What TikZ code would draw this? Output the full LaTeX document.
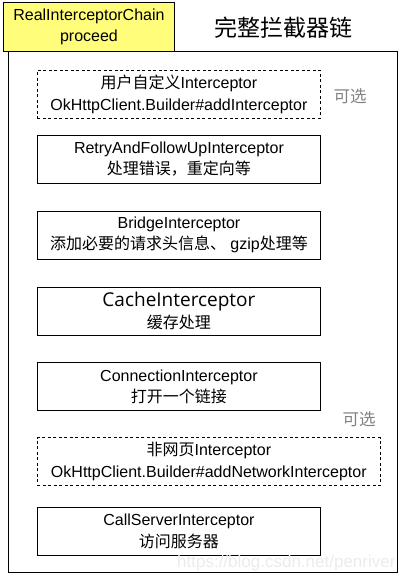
\documentclass[tikz,border=0pt]{standalone}
\usepackage{fontspec}
\setmainfont{Liberation Sans}
\newfontfamily\cjk{Noto Sans CJK SC}
\newfontfamily\cachefont{Open Sans}
\usetikzlibrary{positioning}

\definecolor{chainyellow}{RGB}{255,253,122}
\definecolor{optgray}{RGB}{130,130,130}

\tikzset{
    stage/.style={draw, line width=0.9pt, minimum width=283pt, minimum height=48pt,
        align=center, inner sep=0pt, font=\fontsize{16}{21.5}\selectfont},
    optstage/.style={stage, dashed, dash pattern=on 3pt off 2.5pt, line width=0.7pt},
    optnote/.style={text=optgray, font=\cjk\fontsize{16.5}{18}\selectfont}
}

\begin{document}
\begin{tikzpicture}[x=1pt, y=-1pt]
    \useasboundingbox (0,0) rectangle (406,585);

    % outer frame and header
    \draw[line width=0.9pt] (8,51) rectangle (397,572);
    \node[draw, fill=chainyellow, line width=0.9pt, minimum width=171pt, minimum height=49pt,
        inner sep=0pt, align=center, font=\fontsize{16}{21}\selectfont,
        anchor=north west] (Chain) at (3,2) {RealInterceptorChain\\proceed};
    \node[font=\cjk\fontsize{23}{25}\selectfont] (Title) at (283,28) {完整拦截器链};

    % interceptor boxes
    \node[optstage, anchor=north west] (User) at (37,70)
        {{\cjk 用户自定义}Interceptor\\OkHttpClient.Builder\#addInterceptor};
    \node[stage, below=16pt of User.south west, anchor=north west] (Retry)
        {RetryAndFollowUpInterceptor\\{\cjk 处理错误，重定向等}};
    \node[stage, below=27pt of Retry.south west, anchor=north west] (Bridge)
        {BridgeInterceptor\\{\cjk 添加必要的请求头信息、} gzip{\cjk 处理等}};
    \node[stage, below=27pt of Bridge.south west, anchor=north west] (Cache)
        {{\cachefont\fontsize{19}{21}\selectfont CacheInterceptor}\\{\cjk 缓存处理}};
    \node[stage, below=27pt of Cache.south west, anchor=north west] (Connection)
        {ConnectionInterceptor\\{\cjk 打开一个链接}};
    \node[optstage, minimum width=343pt, below=26pt of Connection.south west,
        anchor=north west] (Network)
        {{\cjk 非网页}Interceptor\\OkHttpClient.Builder\#addNetworkInterceptor};
    \node[stage, below=21pt of Network.south west, anchor=north west] (CallServer)
        {CallServerInterceptor\\{\cjk 访问服务器}};

    % optional notes
    \node[optnote] (UserNote) at (350,96) {可选};
    \node[optnote] (NetworkNote) at (359,419) {可选};

    \node[text=black!8, font=\fontsize{17}{18}\selectfont, anchor=east] (Mark) at (399,563)
        {https://blog.csdn.net/penriver};
\end{tikzpicture}
\end{document}
